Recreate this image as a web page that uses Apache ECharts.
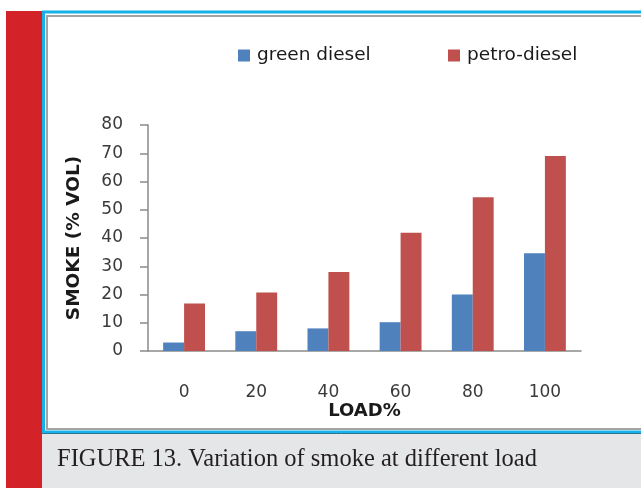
<!DOCTYPE html>
<html>
<head>
<meta charset="utf-8">
<script src="https://cdn.jsdelivr.net/npm/echarts@6/dist/echarts.min.js"></script>
<style>
  html, body { margin: 0; padding: 0; background: #ffffff; }
  #chart { width: 641px; height: 488px; }
</style>
</head>
<body>
<div id="chart"></div>
<script>
// Smoke opacity (% vol) against engine load for the two fuels
const loads = ['0', '20', '40', '60', '80', '100'];
const greenDiesel = [3, 7, 8, 10.2, 20, 34.6];
const petroDiesel = [16.8, 20.7, 28, 41.9, 54.4, 69];
const seriesNames = ['green diesel', 'petro-diesel'];
const yTicks = { min: 0, max: 80, step: 10 };
const captionText = 'FIGURE 13. Variation of smoke at different load';

const chart = echarts.init(document.getElementById('chart'), null, { renderer: 'canvas' });

const tickFont = { fontFamily: 'DejaVu Sans', fontSize: 17, color: '#3a3a3a' };
const legendText = { fontFamily: 'DejaVu Sans', fontSize: 18.5, color: '#1a1a1a', padding: [0, 0, 0, 2] };

chart.setOption({
  animation: false,
  backgroundColor: '#ffffff',
  color: ['#4f81bd', '#c0504d'],
  graphic: [
    // page side band
    { type: 'rect', shape: { x: 6, y: 11, width: 36, height: 477 }, style: { fill: '#d42229' }, z: 0 },
    // caption strip
    { type: 'rect', shape: { x: 42, y: 433, width: 599, height: 55 }, style: { fill: '#e5e6e8' }, z: 0 },
    { type: 'line', shape: { x1: 42, y1: 433.5, x2: 641, y2: 433.5 }, style: { stroke: '#3c3c3c', lineWidth: 1 }, z: 1 },
    // figure frame
    { type: 'rect', shape: { x: 43.5, y: 12, width: 600, height: 420 }, style: { fill: 'none', stroke: '#17b1ea', lineWidth: 3 }, z: 1 },
    { type: 'rect', shape: { x: 47, y: 16, width: 600, height: 413 }, style: { fill: 'none', stroke: '#a3a3a3', lineWidth: 2 }, z: 1 },
    {
      type: 'text', left: 57, top: 447, z: 2,
      style: { text: captionText, fontFamily: 'Liberation Serif', fontSize: 24.5, fill: '#231f20' }
    }
  ],
  legend: [
    {
      data: [seriesNames[0]], top: 41, left: 233,
      itemWidth: 12, itemHeight: 12, icon: 'rect', textStyle: legendText
    },
    {
      data: [seriesNames[1]], top: 41, left: 443,
      itemWidth: 12, itemHeight: 12, icon: 'rect', textStyle: legendText
    }
  ],
  grid: { left: 148, right: 60, top: 125, bottom: 137, containLabel: false },
  xAxis: {
    type: 'category',
    data: loads,
    name: 'LOAD%',
    nameLocation: 'middle',
    nameGap: 49,
    nameTextStyle: { fontFamily: 'DejaVu Sans', fontSize: 18, fontWeight: 'bold', color: '#1a1a1a' },
    axisLine: { lineStyle: { color: '#8a8a8a', width: 1.5 } },
    axisTick: { show: false },
    axisLabel: Object.assign({ margin: 33 }, tickFont)
  },
  yAxis: {
    type: 'value',
    min: yTicks.min,
    max: yTicks.max,
    interval: yTicks.step,
    name: 'SMOKE (% VOL)',
    nameLocation: 'middle',
    nameGap: 64,
    nameTextStyle: { fontFamily: 'DejaVu Sans', fontSize: 18.5, fontWeight: 'bold', color: '#1a1a1a' },
    axisLine: { show: true, lineStyle: { color: '#8a8a8a', width: 1.5 } },
    axisTick: { show: true, length: 8, lineStyle: { color: '#8a8a8a', width: 1.5 } },
    axisLabel: Object.assign({ margin: 25 }, tickFont),
    splitLine: { show: false }
  },
  series: [
    {
      name: seriesNames[0], type: 'bar', data: greenDiesel,
      barGap: '0%', barCategoryGap: '42%'
    },
    {
      name: seriesNames[1], type: 'bar', data: petroDiesel,
      barGap: '0%', barCategoryGap: '42%'
    }
  ]
});
</script>
</body>
</html>
